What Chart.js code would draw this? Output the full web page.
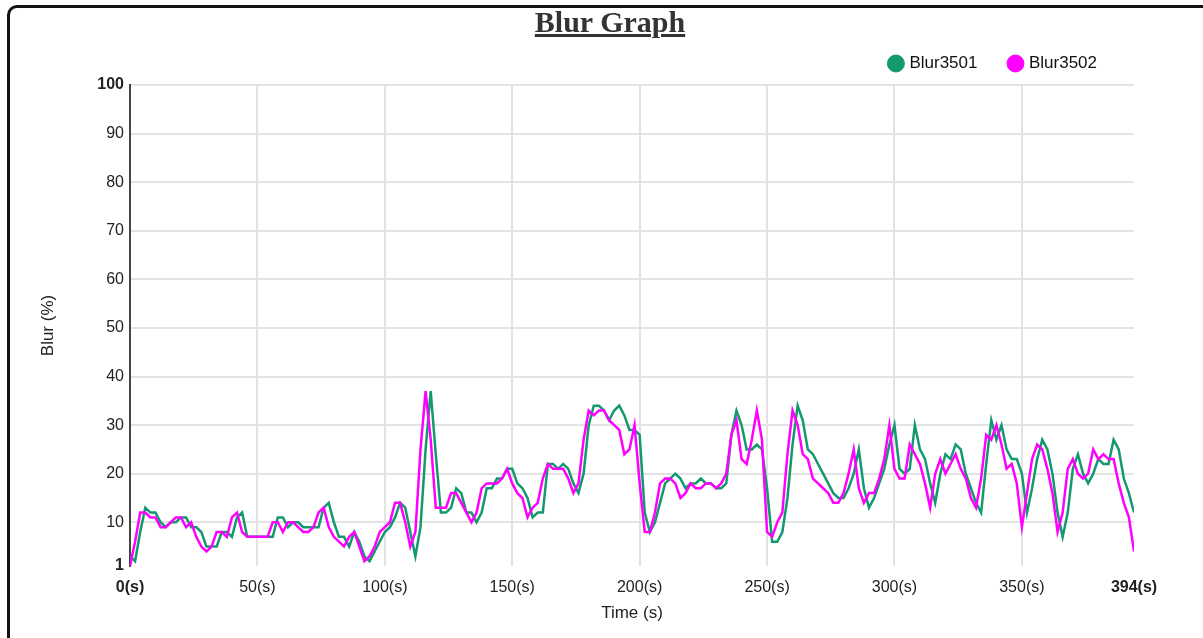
<!DOCTYPE html>
<html>
<head>
<meta charset="utf-8">
<title>Blur Graph</title>
<script src="https://cdn.jsdelivr.net/npm/chart.js@4.4.1/dist/chart.umd.min.js"></script>
<style>
  html, body { margin: 0; padding: 0; background: #fff; width: 1203px; height: 638px; overflow: hidden; }
  .frame {
    position: absolute; left: 7px; top: 5px; width: 1220px; height: 680px;
    border: 3px solid #111; border-radius: 10px; box-sizing: border-box;
  }
  h1 {
    position: absolute; left: 0; top: 7px; width: 1220px; margin: 0; z-index: 2;
    text-align: center; color: #333; text-decoration: underline;
    font: bold 30px/30px "Liberation Serif", "Times New Roman", serif;
  }
  #wrap { position: absolute; left: 0; top: 0; width: 1203px; height: 638px; }
</style>
</head>
<body>
<div class="frame"></div>
<h1>Blur Graph</h1>
<div id="wrap"><canvas id="chart"></canvas></div>
<script>
// Sample times in seconds
const TIMES = [
  0, 2, 4, 6, 8, 10, 12, 14, 16, 18, 20, 22, 24, 26, 28, 30, 32, 34, 36, 38,
  40, 42, 44, 46, 48, 50, 52, 54, 56, 58, 60, 62, 64, 66, 68, 70, 72, 74, 76, 78,
  80, 82, 84, 86, 88, 90, 92, 94, 96, 98, 100, 102, 104, 106, 108, 110, 112, 114, 116, 118,
  120, 122, 124, 126, 128, 130, 132, 134, 136, 138, 140, 142, 144, 146, 148, 150, 152, 154, 156, 158,
  160, 162, 164, 166, 168, 170, 172, 174, 176, 178, 180, 182, 184, 186, 188, 190, 192, 194, 196, 198,
  200, 202, 204, 206, 208, 210, 212, 214, 216, 218, 220, 222, 224, 226, 228, 230, 232, 234, 236, 238,
  240, 242, 244, 246, 248, 250, 252, 254, 256, 258, 260, 262, 264, 266, 268, 270, 272, 274, 276, 278,
  280, 282, 284, 286, 288, 290, 292, 294, 296, 298, 300, 302, 304, 306, 308, 310, 312, 314, 316, 318,
  320, 322, 324, 326, 328, 330, 332, 334, 336, 338, 340, 342, 344, 346, 348, 350, 352, 354, 356, 358,
  360, 362, 364, 366, 368, 370, 372, 374, 376, 378, 380, 382, 384, 386, 388, 390, 392, 394
];

// Blur percentage per camera
const BLUR_3501 = [
  3, 2, 8, 13, 12, 12, 10, 9, 10, 10, 11, 11, 9, 9, 8, 5, 5, 5, 8, 8,
  7, 11, 12, 7, 7, 7, 7, 7, 7, 11, 11, 9, 10, 10, 9, 9, 9, 9, 13, 14,
  10, 7, 7, 5, 8, 6, 3, 2, 4, 6, 8, 9, 11, 14, 13, 8, 3, 9, 25, 37,
  24, 12, 12, 13, 17, 16, 12, 12, 10, 12, 17, 17, 19, 19, 21, 21, 18, 17, 15, 11,
  12, 12, 22, 22, 21, 22, 21, 18, 16, 20, 30, 34, 34, 33, 31, 33, 34, 32, 29, 29,
  28, 12, 8, 10, 14, 18, 19, 20, 19, 17, 18, 18, 19, 18, 18, 17, 17, 18, 28, 33,
  30, 25, 25, 26, 25, 17, 6, 6, 8, 15, 26, 34, 31, 25, 24, 22, 20, 18, 16, 15,
  15, 17, 20, 25, 17, 13, 15, 18, 21, 26, 30, 21, 20, 21, 30, 25, 23, 18, 14, 20,
  24, 23, 26, 25, 20, 17, 14, 12, 22, 31, 27, 30, 25, 23, 23, 20, 12, 17, 23, 27,
  25, 20, 12, 7, 12, 21, 24, 20, 18, 20, 23, 22, 22, 27, 25, 19, 16, 12
];
const BLUR_3502 = [
  1, 6, 12, 12, 11, 11, 9, 9, 10, 11, 11, 9, 10, 7, 5, 4, 5, 8, 8, 7,
  11, 12, 8, 7, 7, 7, 7, 7, 10, 10, 8, 10, 10, 9, 8, 8, 9, 12, 13, 9,
  7, 6, 5, 7, 8, 5, 2, 3, 5, 8, 9, 10, 14, 14, 10, 5, 8, 25, 37, 27,
  13, 13, 13, 16, 16, 14, 12, 10, 12, 17, 18, 18, 18, 19, 21, 18, 16, 15, 11, 13,
  14, 19, 22, 21, 21, 21, 19, 16, 18, 27, 33, 32, 33, 33, 31, 30, 29, 24, 25, 30,
  18, 8, 8, 12, 18, 19, 19, 18, 15, 16, 18, 17, 17, 18, 18, 17, 18, 20, 28, 31,
  23, 22, 27, 33, 27, 8, 7, 10, 12, 24, 33, 30, 24, 23, 19, 18, 17, 16, 14, 14,
  16, 20, 25, 17, 14, 16, 16, 19, 23, 30, 21, 19, 19, 26, 24, 22, 18, 13, 20, 23,
  20, 22, 24, 21, 19, 15, 13, 19, 28, 27, 30, 26, 21, 22, 18, 9, 16, 23, 26, 25,
  21, 16, 8, 12, 21, 23, 20, 19, 20, 25, 23, 24, 23, 23, 18, 14, 11, 4
];

const SERIES_NAMES = ['Blur3501', 'Blur3502'];
const X_TICKS = [0, 50, 100, 150, 200, 250, 300, 350, 394];
const Y_TICKS = [1, 10, 20, 30, 40, 50, 60, 70, 80, 90, 100];
const X_TITLE = 'Time (s)';
const Y_TITLE = 'Blur (%)';

const GREEN = '#12996f';
const MAGENTA = '#ff00ff';
const GRID = '#e3e3e3';
const CLEAR = 'rgba(0,0,0,0)';
const FONT = '"Liberation Sans", Arial, sans-serif';

Chart.defaults.font.family = FONT;
Chart.defaults.color = '#222';

const toPoints = values => TIMES.map((t, i) => ({ x: t, y: values[i] }));
const isEnd = (list, v) => v === list[0] || v === list[list.length - 1];

// Leaves a little extra room between the legend row and the plot,
// and pulls the legend row slightly in from the right edge
const legendPlacement = {
  id: 'legendPlacement',
  afterInit(chart) {
    const legend = chart.legend;
    if (!legend) return;
    const fit = legend.fit.bind(legend);
    legend.fit = () => { fit(); legend.height += 3; };
  },
  afterLayout(chart) {
    if (chart.legend) chart.legend.right -= 4;
  }
};

new Chart(document.getElementById('chart'), {
  type: 'line',
  data: {
    datasets: [
      { label: SERIES_NAMES[0], data: toPoints(BLUR_3501), borderColor: GREEN, backgroundColor: GREEN, order: 1 },
      { label: SERIES_NAMES[1], data: toPoints(BLUR_3502), borderColor: MAGENTA, backgroundColor: MAGENTA, order: 0 }
    ]
  },
  options: {
    responsive: true,
    maintainAspectRatio: false,
    animation: false,
    layout: { padding: { left: 38, right: 69, top: 22, bottom: 14 } },
    elements: {
      point: { radius: 0, hoverRadius: 0 },
      line: { borderWidth: 2.5, tension: 0 }
    },
    plugins: {
      legend: {
        position: 'top',
        align: 'end',
        labels: {
          usePointStyle: true,
          pointStyle: 'circle',
          boxWidth: 10,
          boxHeight: 12,
          padding: 33,
          color: '#111',
          font: { size: 17 },
          sort: (a, b) => a.datasetIndex - b.datasetIndex
        }
      },
      tooltip: { enabled: false }
    },
    scales: {
      x: {
        type: 'linear',
        min: X_TICKS[0],
        max: X_TICKS[X_TICKS.length - 1],
        afterBuildTicks: scale => { scale.ticks = X_TICKS.map(v => ({ value: v })); },
        afterFit: scale => { scale.height = 58; },
        ticks: {
          autoSkip: false,
          maxRotation: 0,
          padding: 12,
          color: '#222',
          callback: v => v + '(s)',
          font: c => ({ size: 16, weight: (c.tick && isEnd(X_TICKS, c.tick.value)) ? 'bold' : 'normal' })
        },
        grid: {
          drawTicks: false,
          lineWidth: 2,
          color: c => (c.tick && isEnd(X_TICKS, c.tick.value)) ? CLEAR : GRID
        },
        border: { display: false },
        title: { display: true, text: X_TITLE, color: '#222', font: { size: 17 }, padding: 0 }
      },
      y: {
        min: Y_TICKS[0],
        max: Y_TICKS[Y_TICKS.length - 1],
        afterBuildTicks: scale => { scale.ticks = Y_TICKS.map(v => ({ value: v })); },
        afterFit: scale => { scale.width = 92; },
        ticks: {
          autoSkip: false,
          padding: 6,
          color: '#222',
          font: c => ({ size: 16, weight: (c.tick && isEnd(Y_TICKS, c.tick.value)) ? 'bold' : 'normal' })
        },
        grid: {
          drawTicks: false,
          lineWidth: 2,
          color: c => (c.tick && c.tick.value === Y_TICKS[0]) ? CLEAR : GRID
        },
        border: { display: true, color: '#444', width: 2 },
        title: { display: true, text: Y_TITLE, color: '#222', font: { size: 17 }, padding: 0 }
      }
    }
  },
  plugins: [legendPlacement]
});
</script>
</body>
</html>
